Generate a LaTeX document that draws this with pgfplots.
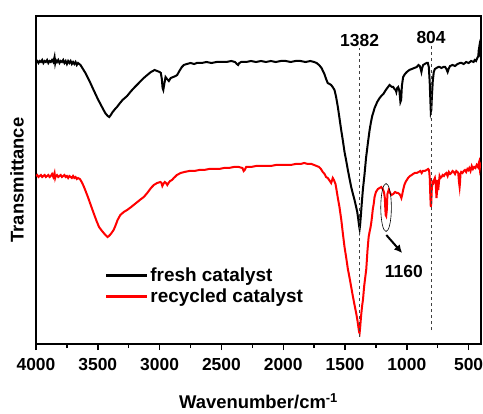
\documentclass[border=0pt]{standalone}
\usepackage{pgfplots}
\usepackage{pgfplotstable}
\pgfplotsset{compat=1.18}
\usepackage{fontspec}
\setmainfont{Liberation Sans}
\usetikzlibrary{arrows.meta}

% FTIR spectra, transmittance in arbitrary units (offset traces)
\pgfplotstableread{
wn T
4000 282
3990 283
3980 281
3970 283
3960 282
3950 284
3940 281
3930 283
3920 282
3910 284
3900 281
3890 283
3880 282
3870 284
3860 282
3850 287
3845 281
3840 284
3830 282
3820 284
3810 281
3800 283
3790 282
3780 284
3770 281
3760 283
3750 280
3740 283
3730 281
3720 283
3710 280
3700 282
3690 280
3680 282
3670 279
3660 281
3650 280
3640 279
3630 277
3615 274
3600 271
3580 266
3560 261
3534 254
3500 245
3466 237
3440 231
3420 228
3407 227
3395 229
3380 232
3360 235
3345 237
3320 241
3300 244
3263 248
3230 253
3200 257
3160 262
3128 266
3100 269
3070 272
3040 274
3020 273
3000 272
2990 271
2982 265
2976 256
2970 254
2962 260
2952 267
2940 265
2925 263
2910 266
2890 267
2870 268
2858 269
2840 273
2820 277
2804 279
2780 280
2750 281
2720 280
2700 281
2660 281
2620 282
2580 281
2540 282
2500 282
2460 282
2420 283
2390 282
2375 280
2365 279
2355 281
2340 282
2300 282
2260 283
2220 282
2180 283
2140 282
2100 283
2060 282
2020 283
1980 283
1940 282
1900 283
1860 283
1820 282
1780 283
1750 282
1730 281
1710 279
1690 276
1667 270
1650 264
1640 261
1625 260
1612 259
1600 257
1585 254
1572 247
1558 237
1545 226
1531 214
1517 203
1504 192
1490 183
1477 174
1463 165
1450 157
1436 150
1423 144
1410 137
1401 132
1392 124
1386 118
1382 115
1378 119
1372 128
1365 140
1355 155
1342 170
1330 186
1315 201
1301 214
1290 222
1280 228
1270 232
1261 236
1250 239
1240 242
1220 246
1207 248
1190 250
1170 254
1152 257
1140 259
1130 258
1120 257
1110 257
1100 255
1090 254
1085 252
1078 256
1070 257
1060 253
1052 242
1046 244
1040 258
1030 267
1015 270
1000 272
980 274
960 275
940 276
920 277
906 279
895 278
888 275
882 272
876 276
868 279
855 280
841 281
830 281
822 277
815 262
810 245
806 232
802 234
797 248
790 263
782 272
773 275
760 276
745 277
735 277
720 276
705 277
690 277
680 275
670 272
662 275
650 278
630 279
610 278
590 280
570 281
556 281
540 280
520 282
500 281
480 283
460 282
451 284
440 283
430 286
422 288
418 294
414 297
410 291
406 289
400 292
}\fresh

\pgfplotstableread{
wn T
4000 168
3990 169
3980 167
3970 168
3960 169
3950 167
3940 168
3930 169
3920 167
3910 168
3900 169
3890 167
3880 168
3870 170
3860 167
3850 171
3845 166
3840 168
3830 169
3820 167
3810 168
3800 169
3790 167
3780 168
3770 169
3760 167
3750 168
3740 166
3730 168
3720 167
3710 166
3700 168
3690 166
3680 167
3670 165
3660 166
3645 165
3630 162
3615 158
3602 154
3580 147
3560 140
3534 131
3510 123
3490 117
3466 113
3445 110
3430 108
3421 107
3410 108
3395 110
3372 114
3355 119
3340 124
3318 129
3290 132
3263 134
3230 137
3200 140
3160 144
3128 147
3100 151
3070 156
3047 159
3020 161
2993 162
2985 161
2978 158
2970 160
2958 162
2948 161
2938 159
2928 161
2915 163
2900 164
2885 166
2860 169
2830 171
2800 172
2760 173
2720 173
2680 174
2640 174
2600 175
2560 175
2520 175
2480 176
2440 176
2400 177
2360 177
2330 176
2320 173
2312 174
2300 177
2260 177
2220 178
2180 178
2140 178
2100 178
2060 179
2020 179
1980 179
1940 179
1900 180
1860 180
1830 181
1800 180
1770 180
1750 179
1730 178
1710 177
1695 175
1680 172
1665 170
1653 167
1640 166
1628 164
1612 161
1599 166
1590 164
1577 160
1570 155
1558 146
1545 137
1530 124
1517 110
1504 97
1490 86
1477 75
1463 66
1450 57
1437 48
1423 39
1410 31
1400 24
1392 17
1386 12
1382 11
1378 16
1370 28
1362 38
1355 44
1345 58
1336 67
1328 75
1318 94
1309 107
1300 113
1293 117
1287 122
1282 127
1275 135
1268 140
1261 147
1250 152
1234 155
1220 156
1207 157
1195 155
1185 152
1178 146
1174 135
1171 129
1167 128
1162 134
1157 150
1147 154
1135 151
1125 149
1110 150
1095 152
1080 151
1071 151
1060 150
1050 148
1044 146
1038 149
1030 154
1020 159
1010 162
1000 164
990 166
975 168
960 169
950 170
936 171
920 171
905 172
890 173
880 171
870 173
855 173
840 174
828 175
820 174
814 165
810 148
806 137
802 141
798 155
793 162
786 161
780 164
773 166
766 160
760 146
756 152
752 164
746 154
740 162
735 168
728 166
719 167
710 169
700 168
690 170
680 171
670 168
660 172
650 170
640 171
630 173
620 172
610 170
600 173
590 172
584 171
578 162
573 157
570 161
566 170
560 172
550 171
540 173
530 174
520 172
510 175
503 174
495 176
485 173
475 178
465 175
455 177
445 176
435 179
425 177
422 179
415 182
410 176
405 180
400 179
}\recycled

\begin{document}
\begin{tikzpicture}
\begin{axis}[
  scale only axis,
  width=445bp, height=328bp,
  x dir=reverse,
  xmin=400, xmax=4000,
  ymin=0, ymax=328,
  xtick={500,1000,...,4000},
  minor x tick num=1,
  ytick=\empty,
  tick align=outside,
  xtick pos=left,
  major tick length=6bp,
  minor tick length=4bp,
  every tick/.style={black, line width=1.4bp},
  axis line style={line width=1.6bp},
  /pgf/number format/assume math mode=true,
  /pgf/number format/set thousands separator={},
  tick label style={font=\bfseries\fontsize{17.5}{20}\selectfont},
  xticklabel style={yshift=-5bp},
  xlabel={Wavenumber/cm\textsuperscript{-1}},
  ylabel={Transmittance},
  label style={font=\bfseries\fontsize{18.5}{22}\selectfont},
  xlabel style={at={(rel axis cs:0.5,-0.196)}, anchor=base},
  ylabel style={at={(rel axis cs:-0.0427,0.5)}, anchor=center},
  legend cell align=left,
  legend style={draw=none, fill=none, at={(rel axis cs:0.148,0.245)},
    anchor=north west, font=\bfseries\fontsize{19}{23}\selectfont,
    row sep=2bp},
  legend image code/.code={\draw[#1, line width=2.4bp] (0bp,0bp) -- (41bp,0bp);},
]
\addplot[black, line width=2bp] table[x=wn, y=T] {\fresh};
\addlegendentry{fresh catalyst}
\addplot[red, line width=2bp] table[x=wn, y=T] {\recycled};
\addlegendentry{recycled catalyst}

% peak markers
\addplot[forget plot, black!75, dashed, line width=0.9bp] coordinates {(1382,7) (1382,296)};
\addplot[forget plot, black!75, dashed, line width=0.9bp] coordinates {(804,14) (804,299)};

\node[font=\bfseries\fontsize{17.5}{20}\selectfont] at (axis cs:1382,303) {1382};
\node[font=\bfseries\fontsize{17.5}{20}\selectfont] at (axis cs:804,306) {804};
\node[font=\bfseries\fontsize{17.5}{20}\selectfont] at (axis cs:1024,72.5) {1160};
\draw[line width=0.6bp] (axis cs:1168,136.5) ellipse [x radius=5.3bp, y radius=24bp];
\draw[line width=2bp, -{Latex[length=8bp, width=8bp]}] (axis cs:1166,109) -- (axis cs:1038,91);
\end{axis}
\pgfresetboundingbox
\path[use as bounding box] (current axis.south west) ++(-36bp,-70bp) rectangle ++(483bp,414bp);
\end{tikzpicture}
\end{document}
